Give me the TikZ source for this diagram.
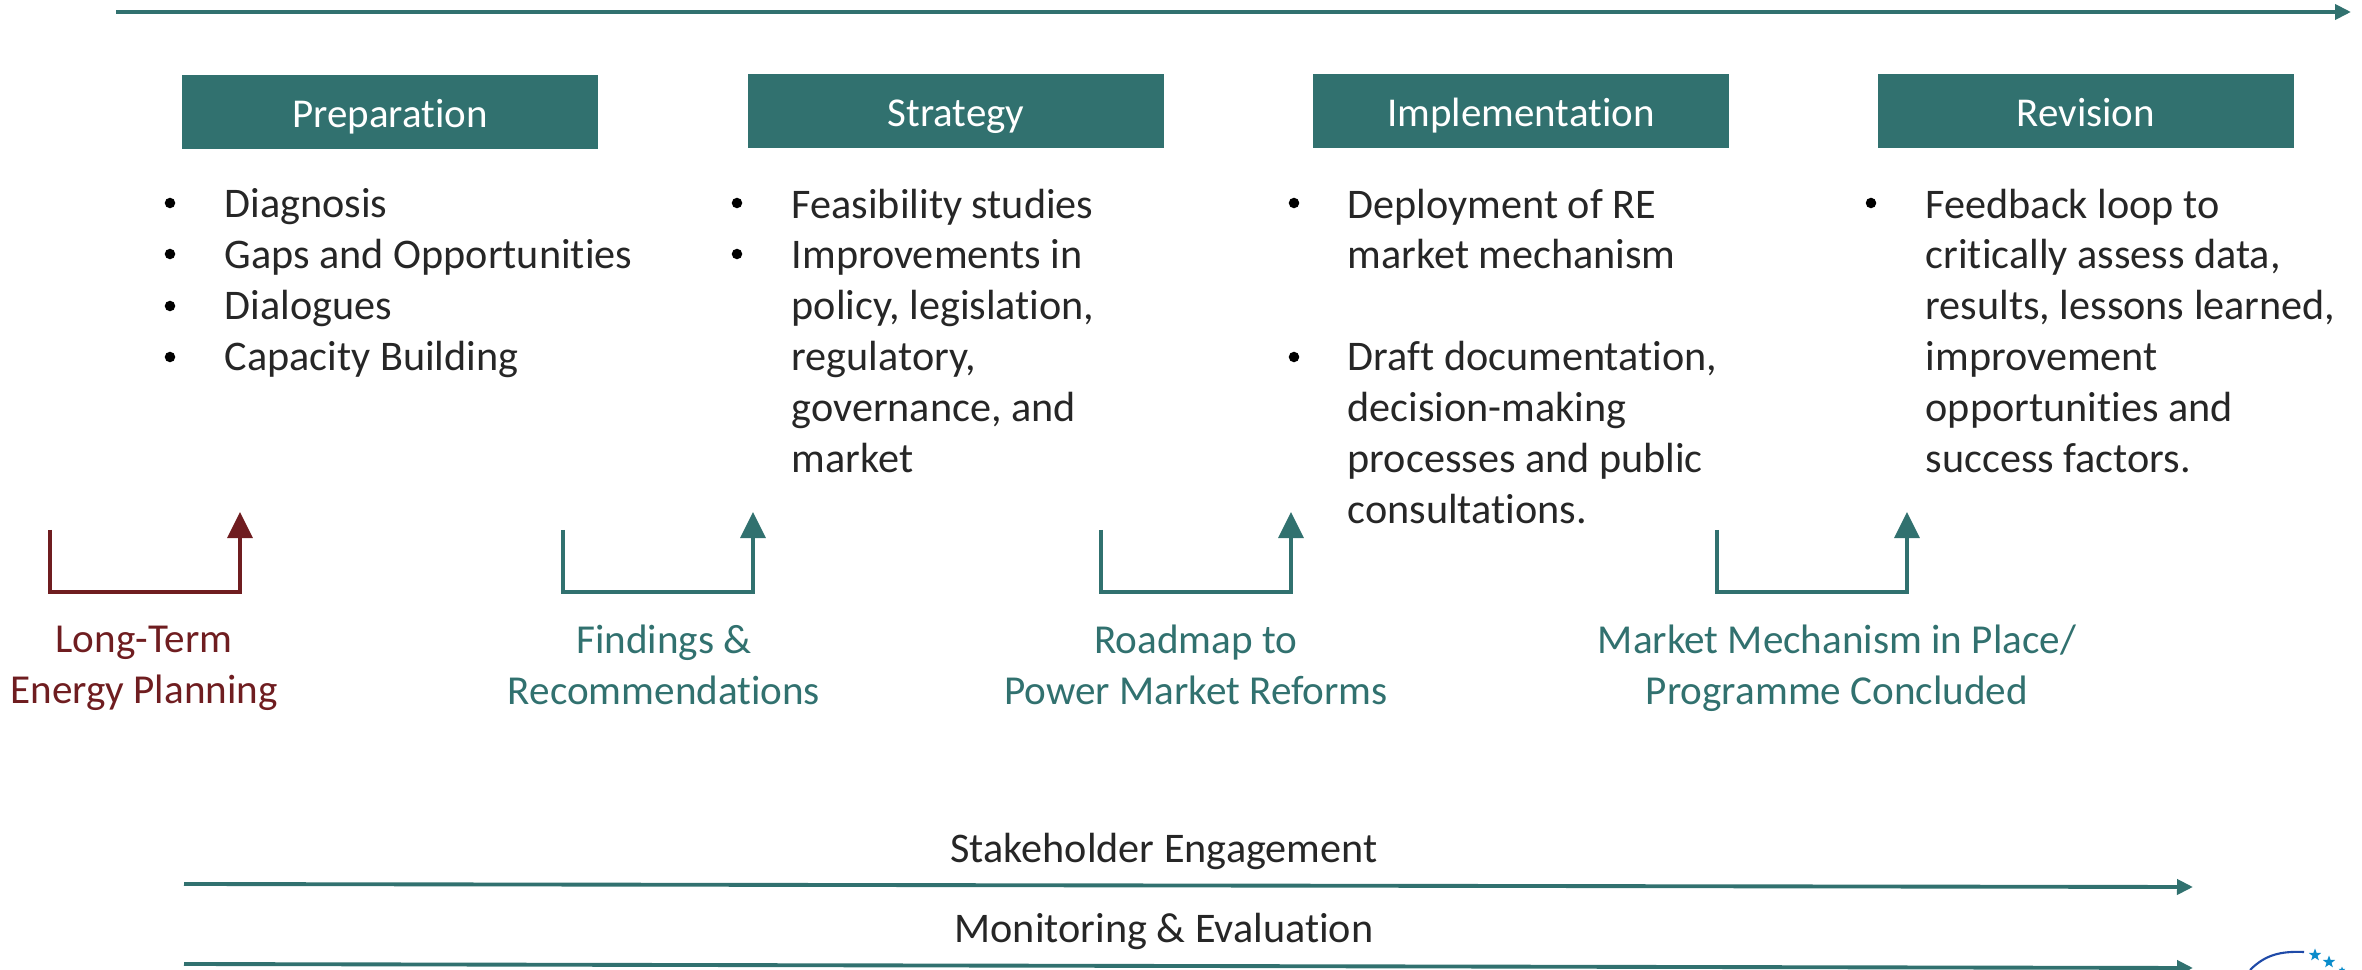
\documentclass[tikz,border=0pt]{standalone}
\usepackage{fontspec}
\setmainfont[Ligatures=NoCommon]{Carlito}
\usepackage{tikz}
\usetikzlibrary{arrows.meta,shapes.geometric}
\definecolor{tealgreen}{HTML}{31716F}
\definecolor{darkred}{HTML}{6F1D20}
\definecolor{logoblue}{HTML}{1F4AA8}
\definecolor{starblue}{HTML}{0A8CCB}
\tikzset{
    phasebox/.style={fill=tealgreen,text=white,minimum width=4.15cm,minimum height=0.73cm,inner sep=0pt,text height=0.34cm,text depth=0.04cm,font=\fontsize{11.65}{13}\selectfont},
    bodytext/.style={anchor=north west,align=left,inner sep=0pt,text=black!85,font=\fontsize{12}{14.5}\selectfont},
    outcome/.style={align=center,inner sep=0pt,text depth=0.1cm,font=\fontsize{11.7}{14.5}\selectfont},
    longline/.style={draw=tealgreen,line width=1.1pt,-{Triangle[length=0.16cm,width=0.15cm]}},
    bracket/.style={line width=0.9pt,-{Triangle[length=0.26cm,width=0.25cm]}},
    logostar/.style={star,star points=5,star point ratio=2.4,fill=starblue,inner sep=0pt,minimum size=0.13cm}
}
\begin{document}
\begin{tikzpicture}[x=0.01cm,y=-0.01cm]
    \useasboundingbox (0,0) rectangle (2362,970);
    % Top arrow
    \coordinate (topstart) at (116,12);
    \coordinate (topend) at (2351,12);
    \draw[longline] (topstart) -- (topend);
    % Phases
    \node[phasebox] (prep) at (390,112) {Preparation};
    \node[phasebox] (strat) at (956,111) {Strategy};
    \node[phasebox] (impl) at (1521,111) {Implementation};
    \node[phasebox] (rev) at (2086,111) {Revision};
    % Bullets
    \foreach \x/\y in {170/203, 170/254, 170/306, 170/357, 737/203, 737/254, 1294/203, 1294/357, 1871/203}
        \filldraw[black] (\x,\y) circle (4.5);
    % Phase texts
    \node[bodytext] (preptext) at (224,188) {Diagnosis\\Gaps and Opportunities\\Dialogues\\Capacity Building};
    \node[bodytext] (strattext) at (791,188) {Feasibility studies\\Improvements in\\policy, legislation,\\regulatory,\\governance, and\\market};
    \node[bodytext] (impltext) at (1347,188) {Deployment of RE\\market mechanism\\[14.5pt]Draft documentation,\\decision-making\\processes and public\\consultations.};
    \node[bodytext] (revtext) at (1925,188) {Feedback loop to\\critically assess data,\\results, lessons learned,\\improvement\\opportunities and\\success factors.};
    % Outcomes
    \node[outcome,text=darkred] (planning) at (144,670) {Long-Term\\Energy Planning};
    \node[outcome,text=tealgreen] (findings) at (664,670) {Findings \&\\Recommendations};
    \node[outcome,text=tealgreen] (roadmap) at (1196,670) {Roadmap to\\Power Market Reforms};
    \node[outcome,text=tealgreen] (mechanism) at (1837,670) {Market Mechanism in Place/\\Programme Concluded};
    % Brackets
    \foreach \name/\xa/\xb/\col in {a/50/240/darkred, b/563/753/tealgreen, c/1101/1291/tealgreen, d/1717/1907/tealgreen}{
        \coordinate (\name start) at (\xa,530);
        \coordinate (\name end) at (\xb,512);
        \draw[bracket,draw=\col] (\name start) |- (\xb,592) -- (\name end);
    }
    % Bottom arrows
    \node[outcome,text=black!85,font=\fontsize{12}{14.5}\selectfont] (stake) at (1164,853) {Stakeholder Engagement};
    \node[outcome,text=black!85,font=\fontsize{12}{14.5}\selectfont] (monit) at (1164,933) {Monitoring \& Evaluation};
    \coordinate (stakestart) at (184,884);
    \coordinate (stakeend) at (2193,887);
    \coordinate (monitstart) at (184,964);
    \coordinate (monitend) at (2193,968);
    \draw[longline] (stakestart) -- (stakeend);
    \draw[longline] (monitstart) -- (monitend);
    % Logo
    \draw[logoblue,line width=0.6pt] (2250,970) .. controls (2265,955) and (2280,951) .. (2304,952);
    \node[logostar] (stara) at (2315,955) {};
    \node[logostar] (starb) at (2329,962) {};
    \node[logostar,minimum size=0.07cm] (starc) at (2342,970) {};
\end{tikzpicture}
\end{document}
